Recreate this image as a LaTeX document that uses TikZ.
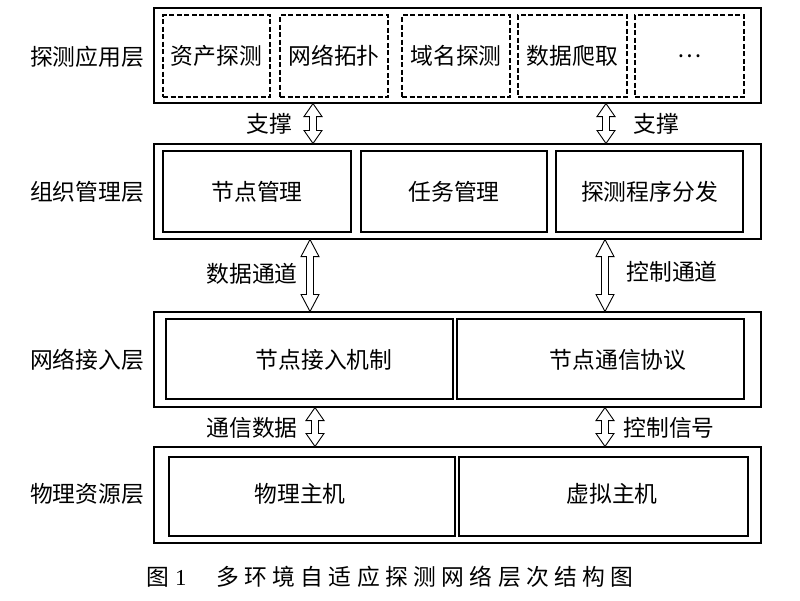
\documentclass[tikz,border=0pt]{standalone}
\usepackage{fontspec}
\setmainfont{Noto Sans CJK SC}
\newfontfamily\serifnum{Liberation Serif}
\usetikzlibrary{calc}
\newcommand{\ck}{\kern5.4pt}
\begin{document}
\begin{tikzpicture}[x=1pt,y=-1pt,
  every node/.style={font=\fontsize{22.8pt}{25pt}\selectfont, inner sep=0pt},
  layer/.style={draw, line width=1.1pt, minimum width=607pt, minimum height=95pt},
  dbox/.style={draw, dashed, dash pattern=on 5pt off 2.5pt, line width=1.1pt, minimum height=82pt},
  ibox/.style={draw, line width=1.3pt},
  ltxt/.style={anchor=center},
  dbl/.style={draw, line width=0.9pt, fill=white, line join=miter,
    to path={let \p1=(\tikztostart), \p2=(\tikztotarget) in
      (\x1,\y1) -- (\x1+9pt,\y1-#1) -- (\x1+3.5pt,\y1-#1) -- (\x1+3.5pt,\y2+#1)
      -- (\x1+9pt,\y2+#1) -- (\x1,\y2) -- (\x1-9pt,\y2+#1) -- (\x1-3.5pt,\y2+#1)
      -- (\x1-3.5pt,\y1-#1) -- (\x1-9pt,\y1-#1) -- cycle}},
  dbl/.default=13pt
]
\useasboundingbox (0,0) rectangle (800,600);

% layers
\node[layer] (L1) at (457.5,55.5) {};
\node[layer] (L2) at (457.5,191.5) {};
\node[layer] (L3) at (457.5,359.5) {};
\node[layer, minimum height=96pt] (L4) at (457.5,495) {};

% layer names
\node[ltxt] (n1) at (87,57) {探测应用层};
\node[ltxt] (n2) at (87,192) {组织管理层};
\node[ltxt] (n3) at (87,360) {网络接入层};
\node[ltxt] (n4) at (87,494) {物理资源层};

% layer 1 dashed boxes
\node[dbox, minimum width=107pt] (d1) at (216.5,56) {资产探测};
\node[dbox, minimum width=108pt] (d2) at (334,56) {网络拓扑};
\node[dbox, minimum width=108pt] (d3) at (456,56) {域名探测};
\node[dbox, minimum width=109pt] (d4) at (572.5,56) {数据爬取};
\node[dbox, minimum width=109pt] (d5) at (689.5,56) {…};

% layer 2
\node[ibox, minimum width=188pt, minimum height=81pt] (b1) at (257,191.5) {节点管理};
\node[ibox, minimum width=186pt, minimum height=81pt] (b2) at (454,191.5) {任务管理};
\node[ibox, minimum width=187pt, minimum height=81pt] (b3) at (649.5,191.5) {探测程序分发};

% layer 3
\node[ibox, minimum width=287pt, minimum height=80pt] (c1) at (309.5,359) {};
\node[ibox, minimum width=287pt, minimum height=80pt] (c2) at (600.5,359) {};
\node (c1t) at (324,360) {节点接入机制};
\node (c2t) at (618,360) {节点通信协议};

% layer 4
\node[ibox, minimum width=286pt, minimum height=79pt] (e1) at (312,496.5) {};
\node[ibox, minimum width=289pt, minimum height=79pt] (e2) at (603.5,496.5) {};
\node (e1t) at (300,494) {物理主机};
\node (e2t) at (612,494) {虚拟主机};

% arrow columns
\coordinate (xa) at (313,0);
\coordinate (xb) at (606,0);
\coordinate (xc) at (310,0);
\coordinate (xd) at (605,0);
\coordinate (xe) at (315,0);

\draw[dbl] (L1.south -| xa) to (L2.north -| xa);
\draw[dbl] (L1.south -| xb) to (L2.north -| xb);
\draw[dbl=17pt] (L2.south -| xc) to (L3.north -| xc);
\draw[dbl=17pt] (L2.south -| xd) to (L3.north -| xd);
\draw[dbl] (L3.south -| xe) to (L4.north -| xe);
\draw[dbl] (L3.south -| xd) to (L4.north -| xd);

% arrow labels
\node (s1) at (269,124) {支撑};
\node (s2) at (656,124) {支撑};
\node (s3) at (252,274) {数据通道};
\node (s4) at (672,272) {控制通道};
\node (s5) at (252,428) {通信数据};
\node (s6) at (669,428) {控制信号};

% caption
\node[anchor=west] (cap1) at (146,577) {图\kern6pt{\serifnum 1}};
\node[anchor=west] (cap2) at (216,577) {多\ck 环\ck 境\ck 自\ck 适\ck 应\ck 探\ck 测\ck 网\ck 络\ck 层\ck 次\ck 结\ck 构\ck 图};
\end{tikzpicture}
\end{document}
